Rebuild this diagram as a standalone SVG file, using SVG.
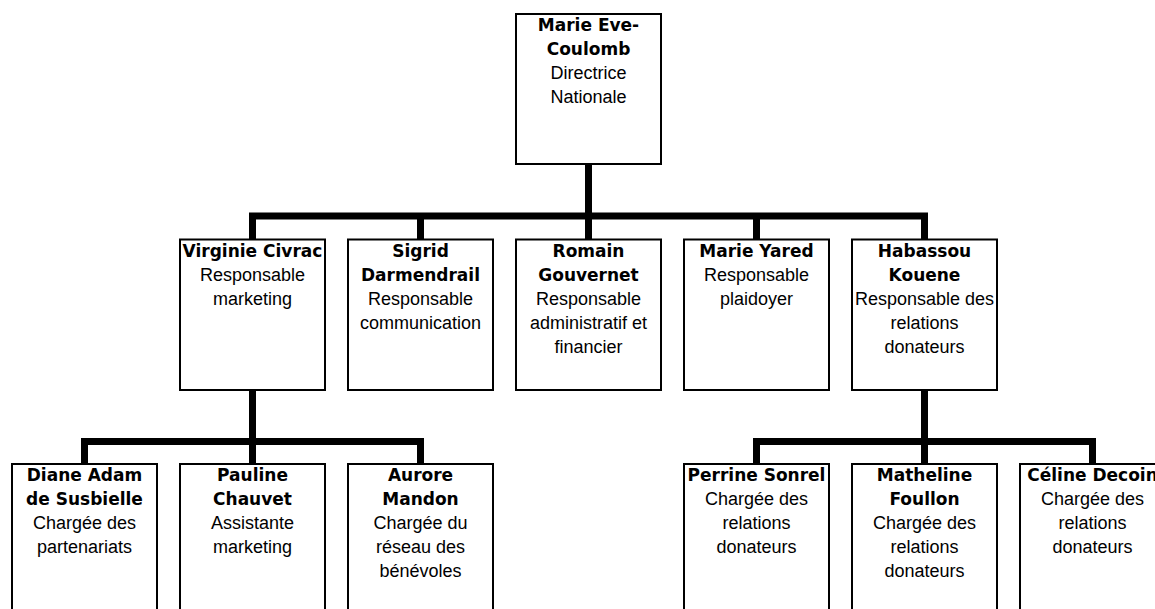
<svg xmlns="http://www.w3.org/2000/svg" width="1155" height="609" viewBox="0 0 1155 609">
<style>
.box{fill:#fff;stroke:#000;stroke-width:2}
.conn{fill:none;stroke:#000;stroke-width:7;stroke-linejoin:miter;stroke-linecap:butt}
text{text-anchor:middle;fill:#000}
.b{font-family:"DejaVu Sans",sans-serif;font-weight:bold;font-size:17px}
.r{font-family:"Liberation Sans",Arial,sans-serif;font-size:18px}
</style>
<rect width="1155" height="609" fill="#fff"/>
<g id="connectors">
<path class="conn" d="M252.5,240 V216 H924.5 V240 M420.5,216 V240 M588.5,164 V240 M756.5,216 V240"/>
<path class="conn" d="M84.5,464 V441.5 H420.5 V464 M252.5,390 V464"/>
<path class="conn" d="M756.5,464 V441.5 H1092.5 V464 M924.5,390 V464"/>
</g>
<g id="n-marie-eve">
<rect class="box" x="516" y="14" width="145" height="150"/>
<text class="b" x="588.5" y="31">Marie Eve-</text>
<text class="b" x="588.5" y="55">Coulomb</text>
<text class="r" x="588.5" y="79">Directrice</text>
<text class="r" x="588.5" y="103">Nationale</text>
</g>
<g id="n-virginie">
<rect class="box" x="180" y="239.5" width="145" height="150.5"/>
<text class="b" x="252.5" y="256.5">Virginie Civrac</text>
<text class="r" x="252.5" y="280.5">Responsable</text>
<text class="r" x="252.5" y="304.5">marketing</text>
</g>
<g id="n-sigrid">
<rect class="box" x="348" y="239.5" width="145" height="150.5"/>
<text class="b" x="420.5" y="256.5">Sigrid</text>
<text class="b" x="420.5" y="280.5">Darmendrail</text>
<text class="r" x="420.5" y="304.5">Responsable</text>
<text class="r" x="420.5" y="328.5">communication</text>
</g>
<g id="n-romain">
<rect class="box" x="516" y="239.5" width="145" height="150.5"/>
<text class="b" x="588.5" y="256.5">Romain</text>
<text class="b" x="588.5" y="280.5">Gouvernet</text>
<text class="r" x="588.5" y="304.5">Responsable</text>
<text class="r" x="588.5" y="328.5">administratif et</text>
<text class="r" x="588.5" y="352.5">financier</text>
</g>
<g id="n-marie-yared">
<rect class="box" x="684" y="239.5" width="145" height="150.5"/>
<text class="b" x="756.5" y="256.5">Marie Yared</text>
<text class="r" x="756.5" y="280.5">Responsable</text>
<text class="r" x="756.5" y="304.5">plaidoyer</text>
</g>
<g id="n-habassou">
<rect class="box" x="852" y="239.5" width="145" height="150.5"/>
<text class="b" x="924.5" y="256.5">Habassou</text>
<text class="b" x="924.5" y="280.5">Kouene</text>
<text class="r" x="924.5" y="304.5">Responsable des</text>
<text class="r" x="924.5" y="328.5">relations</text>
<text class="r" x="924.5" y="352.5">donateurs</text>
</g>
<g id="n-diane">
<rect class="box" x="12" y="464" width="145" height="200"/>
<text class="b" x="84.5" y="481">Diane Adam</text>
<text class="b" x="84.5" y="505">de Susbielle</text>
<text class="r" x="84.5" y="529">Chargée des</text>
<text class="r" x="84.5" y="553">partenariats</text>
</g>
<g id="n-pauline">
<rect class="box" x="180" y="464" width="145" height="200"/>
<text class="b" x="252.5" y="481">Pauline</text>
<text class="b" x="252.5" y="505">Chauvet</text>
<text class="r" x="252.5" y="529">Assistante</text>
<text class="r" x="252.5" y="553">marketing</text>
</g>
<g id="n-aurore">
<rect class="box" x="348" y="464" width="145" height="200"/>
<text class="b" x="420.5" y="481">Aurore</text>
<text class="b" x="420.5" y="505">Mandon</text>
<text class="r" x="420.5" y="529">Chargée du</text>
<text class="r" x="420.5" y="553">réseau des</text>
<text class="r" x="420.5" y="577">bénévoles</text>
</g>
<g id="n-perrine">
<rect class="box" x="684" y="464" width="145" height="200"/>
<text class="b" x="756.5" y="481">Perrine Sonrel</text>
<text class="r" x="756.5" y="505">Chargée des</text>
<text class="r" x="756.5" y="529">relations</text>
<text class="r" x="756.5" y="553">donateurs</text>
</g>
<g id="n-matheline">
<rect class="box" x="852" y="464" width="145" height="200"/>
<text class="b" x="924.5" y="481">Matheline</text>
<text class="b" x="924.5" y="505">Foullon</text>
<text class="r" x="924.5" y="529">Chargée des</text>
<text class="r" x="924.5" y="553">relations</text>
<text class="r" x="924.5" y="577">donateurs</text>
</g>
<g id="n-celine">
<rect class="box" x="1020" y="464" width="145" height="200"/>
<text class="b" x="1092.5" y="481">Céline Decoin</text>
<text class="r" x="1092.5" y="505">Chargée des</text>
<text class="r" x="1092.5" y="529">relations</text>
<text class="r" x="1092.5" y="553">donateurs</text>
</g>
</svg>
